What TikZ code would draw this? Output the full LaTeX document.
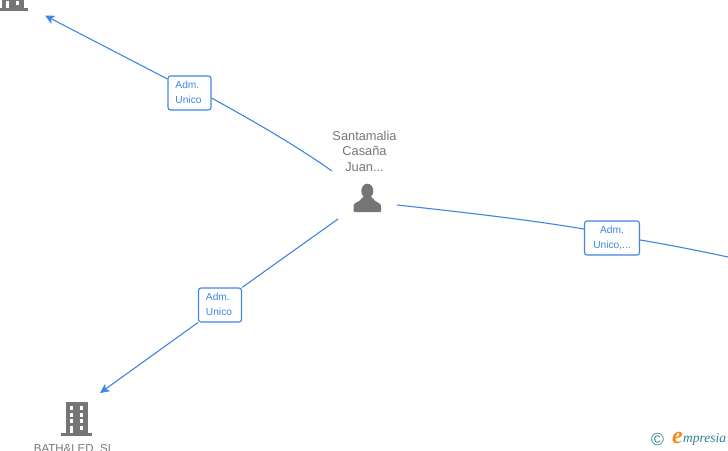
\documentclass[tikz,border=0pt]{standalone}
\usepackage{fontspec}
\setmainfont{Liberation Sans}
\newfontfamily\logofont{Liberation Serif}
\usetikzlibrary{arrows.meta}
\definecolor{edgeblue}{HTML}{3F86E4}
\definecolor{icongray}{HTML}{757575}
\definecolor{textgray}{HTML}{777777}
\definecolor{logoteal}{HTML}{2F7F93}
\definecolor{logoorange}{HTML}{F08A1D}
\tikzset{
  link/.style={draw=edgeblue,line width=1.1pt},
  linkarrow/.style={link,-{Stealth[length=9.5pt,width=9pt,inset=2.5pt]}},
  rolebox/.style={draw=edgeblue,line width=1.1pt,rounded corners=2.5pt,fill=white,text=edgeblue,
    font=\fontsize{10.2pt}{15pt}\selectfont,inner sep=0pt,anchor=center},
  nametext/.style={text=textgray,align=center,inner sep=0pt},
  building/.pic={
    \fill[icongray] (-11,-33.5) rectangle (11,-2);
    \fill[icongray] (-15.8,-2.5) rectangle (15.8,0);
    \foreach \py in {-29.5,-23,-16.5}{
      \fill[white] (-7,\py) rectangle (-3.2,\py+4);
      \fill[white] (3,\py) rectangle (6.8,\py+4);
    }
    \fill[white] (-7,-10) rectangle (-3.2,-2.5);
    \fill[white] (3,-9.8) rectangle (6.8,-5.8);
  }
}
\newcommand{\roleleft}[2]{\hspace*{-2pt}\raisebox{-1pt}{\begin{tabular}{@{}l@{}}#1\\#2\end{tabular}}}
\newcommand{\rolecenter}[2]{\raisebox{-1pt}{\begin{tabular}{@{}c@{}}#1\\#2\end{tabular}}}
\begin{document}
\begin{tikzpicture}[x=1pt,y=-1pt]
\useasboundingbox (0,0) rectangle (728,450);
\clip (0,0) rectangle (728,450);
\fill[white] (0,0) rectangle (728,450);
% anchors of the free connector ends
\coordinate (topEnd) at (45,15.5);
\coordinate (botEnd) at (100,393);
\coordinate (rightEnd) at (728,257);
\coordinate (hubTop) at (332,171);
\coordinate (hubRight) at (397,205);
\coordinate (hubBot) at (338,219);
% role labels
\node[rolebox,minimum width=43pt,minimum height=34pt] (roleTop) at (189.5,93) {\roleleft{Adm.}{Unico}};
\node[rolebox,minimum width=55pt,minimum height=34pt] (roleRight) at (612,238) {\rolecenter{Adm.}{Unico,...}};
\node[rolebox,minimum width=43pt,minimum height=34pt] (roleBot) at (220,305) {\roleleft{Adm.}{Unico}};
% connectors
\draw[link] (hubTop) .. controls (295,145) and (255,122) .. (roleTop.east |- 0,98);
\draw[linkarrow] (roleTop.west |- 0,79) -- (topEnd);
\draw[link] (hubRight) .. controls (470,213) and (530,220) .. (roleRight.west |- 0,229);
\draw[link] (roleRight.east |- 0,240) .. controls (670,245) and (700,251) .. (rightEnd);
\draw[link] (hubBot) -- (roleBot.north east);
\draw[linkarrow] (roleBot.south west) -- (botEnd);
% person
\node[nametext,font=\fontsize{12.8pt}{15.5pt}\selectfont] (person) at (364.5,151) {Santamalia\\Casaña\\Juan...};
\fill[icongray] (367.3,191) ellipse (6pt and 7.3pt);
\fill[icongray,rounded corners=1pt] (353.5,212) -- (353.5,206) .. controls (354,202.5) and (360,202) .. (362.5,197) -- (372,197) .. controls (374.5,202) and (380,202.5) .. (381,206) -- (381,212) -- cycle;
% buildings
\pic at (76.5,435.5) {building};
\pic at (12.5,10.7) {building};
\node[nametext,font=\fontsize{11.5pt}{14pt}\selectfont] (company) at (74,449) {BATH\&LED, SL};
% logo
\node[text=logoteal,inner sep=0pt,font=\fontsize{17.5pt}{17.5pt}\selectfont] (copyr) at (657.5,439) {©};
\node[text=logoorange,inner sep=0pt,font=\logofont\itshape\bfseries\fontsize{24pt}{24pt}\selectfont] (logoE) at (677.5,437.5) {e};
\node[text=logoteal,inner sep=0pt,anchor=west,font=\logofont\itshape\fontsize{13.5pt}{14pt}\selectfont] (logoText) at (683,439.5) {mpresia};
\end{tikzpicture}
\end{document}
